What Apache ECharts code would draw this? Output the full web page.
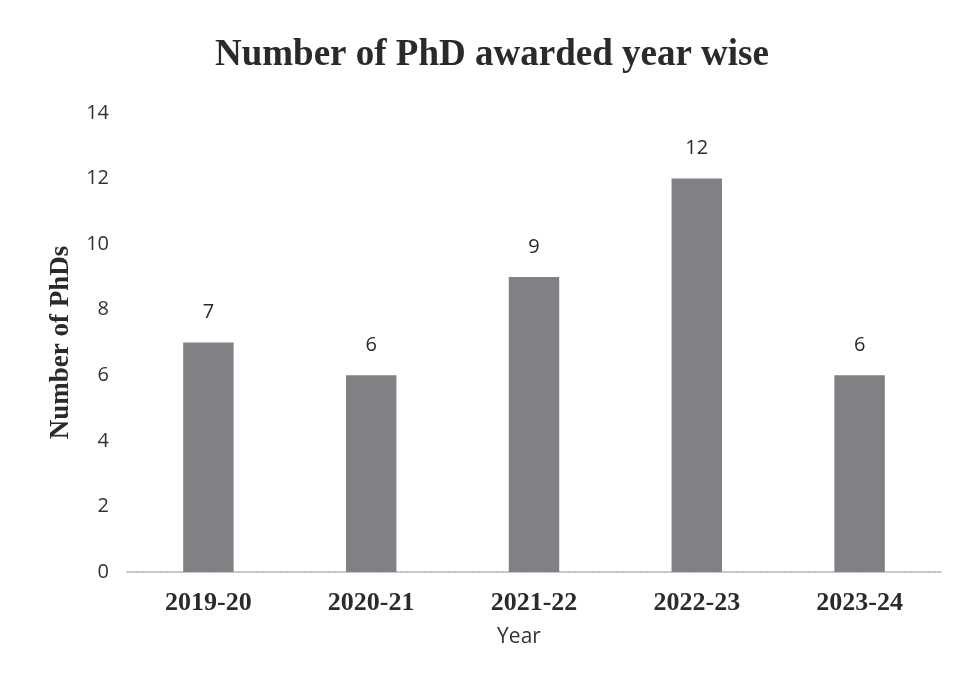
<!DOCTYPE html>
<html>
<head>
<meta charset="utf-8">
<script src="https://cdn.jsdelivr.net/npm/echarts@6/dist/echarts.min.js"></script>
<style>
  html, body { margin: 0; padding: 0; background: #fff; }
  #chart { width: 962px; height: 695px; }
</style>
</head>
<body>
<div id="chart"></div>
<script>
const years = ['2019-20', '2020-21', '2021-22', '2022-23', '2023-24'];
const phds = [7, 6, 9, 12, 6];
const yTicks = [0, 2, 4, 6, 8, 10, 12, 14];

let serif = '"Liberation Serif", "DejaVu Serif", serif';
let sans = '"Open Sans", "Liberation Sans", sans-serif';

let option = {
  backgroundColor: '#fff',
  animation: false,
  title: {
    text: 'Number of PhD awarded year wise',
    left: 210,
    top: 32,
    textStyle: {
      fontFamily: serif,
      fontWeight: 'bold',
      fontSize: 37,
      color: '#2a2a2a'
    }
  },
  grid: { left: 127, right: 21, top: 113, bottom: 123 },
  xAxis: {
    type: 'category',
    data: years,
    name: 'Year',
    nameLocation: 'middle',
    nameGap: 55,
    nameTextStyle: { fontFamily: sans, fontSize: 21, color: '#333', padding: [0, 30, 0, 0] },
    axisLine: { lineStyle: { color: '#aaa', type: 'dotted', width: 1.5 } },
    axisTick: { show: false },
    axisLabel: {
      margin: 18,
      fontFamily: serif,
      fontWeight: 'bold',
      fontSize: 26,
      color: '#2a2a2a'
    }
  },
  yAxis: {
    type: 'value',
    min: yTicks[0],
    max: yTicks[yTicks.length - 1],
    interval: 2,
    name: 'Number of PhDs',
    nameLocation: 'middle',
    nameGap: 52,
    nameTextStyle: { fontFamily: serif, fontWeight: 'bold', fontSize: 27, color: '#2a2a2a' },
    axisLine: { show: false },
    axisTick: { show: false },
    splitLine: { show: false },
    axisLabel: { margin: 18, fontFamily: sans, fontSize: 20, color: '#333' }
  },
  series: [{
    type: 'bar',
    data: phds,
    barWidth: '31%',
    itemStyle: { color: '#808085' },
    label: {
      show: true,
      position: 'top',
      distance: 20,
      fontFamily: sans,
      fontSize: 20,
      color: '#2a2a2a'
    }
  }]
};
echarts.init(document.getElementById('chart')).setOption(option);
</script>
</body>
</html>
